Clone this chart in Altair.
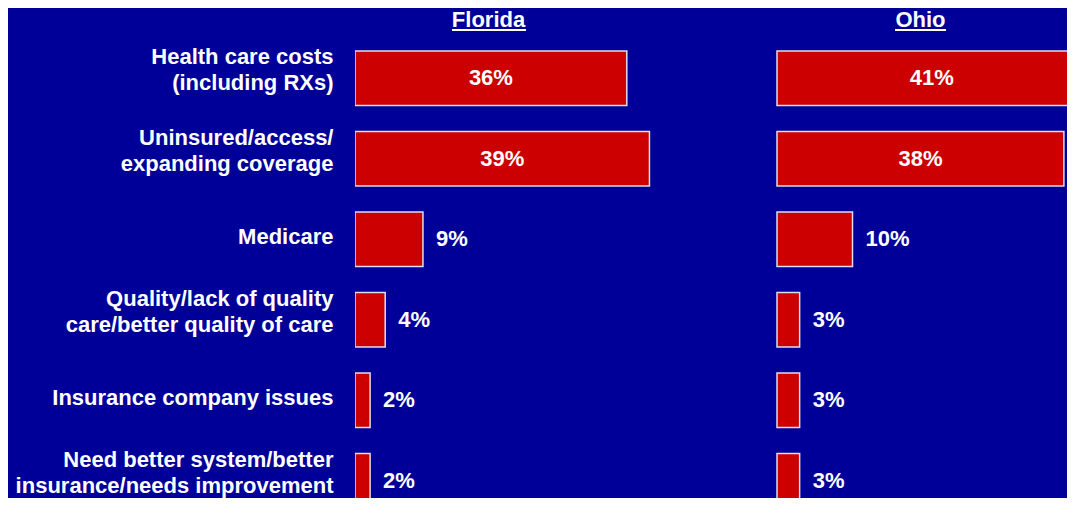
import altair as alt
import pandas as pd

categories = [
    "Health care costs\n(including RXs)",
    "Uninsured/access/\nexpanding coverage",
    "Medicare",
    "Quality/lack of quality\ncare/better quality of care",
    "Insurance company issues",
    "Need better system/better\ninsurance/needs improvement",
]
states = ["Florida", "Ohio"]
florida_values = [36, 39, 9, 4, 2, 2]
ohio_values = [41, 38, 10, 3, 3, 3]

rows = []
for c, v in zip(categories, florida_values):
    rows.append({"category": c, "state": "Florida", "value": v})
for c, v in zip(categories, ohio_values):
    rows.append({"category": c, "state": "Ohio", "value": v})
df = pd.DataFrame(rows)

FONT = "Liberation Sans"
BG = "#000099"
RED = "#CC0000"

y_enc = alt.Y(
    "category:N",
    sort=categories,
    scale=alt.Scale(domain=categories, range=[30, 513], paddingInner=0.323, paddingOuter=0.1615),
    title=None,
    axis=alt.Axis(
        labelFont=FONT,
        labelFontWeight="bold",
        labelFontSize=22,
        labelColor="white",
        labelPadding=22,
        labelLimit=345,
        labelLineHeight=26,
        labelExpr="split(datum.label, '\\n')",
        labelOffset={
            "condition": {"test": "indexof(datum.value, '\\n') >= 0", "value": -21},
            "value": -2,
        },
        ticks=False,
        domain=False,
        grid=False,
    ),
)

ranges = {"Florida": [0, 755], "Ohio": [422, 1177]}


def panel(state):
    base = alt.Chart(df).transform_filter(alt.datum.state == state)
    xs = alt.Scale(domain=[0, 100], range=ranges[state])
    bars = base.mark_bar(color=RED, stroke="#DDDDEE", strokeWidth=1.5, clip=True).encode(
        x=alt.X("value:Q", scale=xs, axis=None),
        y=y_enc,
    )
    inside = (
        base.transform_filter(alt.datum.value >= 20)
        .transform_calculate(mid="datum.value / 2", lab="datum.value + '%'")
        .mark_text(font=FONT, fontWeight="bold", fontSize=22, color="white", baseline="middle", align="center")
        .encode(x=alt.X("mid:Q", scale=xs, axis=None), y=y_enc, text="lab:N")
    )
    outside = (
        base.transform_filter(alt.datum.value < 20)
        .transform_calculate(lab="datum.value + '%'")
        .mark_text(font=FONT, fontWeight="bold", fontSize=22, color="white", baseline="middle", align="left", dx=13)
        .encode(x=alt.X("value:Q", scale=xs, axis=None), y=y_enc, text="lab:N")
    )
    return [bars, inside, outside]


title_pos = {"Florida": (133.5, 97, 171), "Ohio": (565.5, 540, 591)}
title_layers = []
for s in states:
    cx, u0, u1 = title_pos[s]
    tdata = pd.DataFrame({"state": [s]})
    title_layers.append(
        alt.Chart(tdata)
        .mark_text(font=FONT, fontWeight="bold", fontSize=22, color="white", align="center", baseline="alphabetic")
        .encode(text="state:N", x=alt.value(cx), y=alt.value(19))
    )
    title_layers.append(
        alt.Chart(tdata)
        .mark_rule(color="white", strokeWidth=2)
        .encode(x=alt.value(u0), x2=alt.value(u1), y=alt.value(22))
    )

chart = (
    alt.layer(*(panel("Florida") + panel("Ohio") + title_layers))
    .resolve_scale(x="independent")
    .properties(
        width=712,
        height=490,
        autosize=alt.AutoSizeParams(type="none"),
        padding={"left": 347, "top": 0, "right": 0, "bottom": 0},
        background=BG,
    )
    .configure_view(stroke=None)
)

chart.save("out.html", embed_options={"renderer": "svg", "actions": False})
